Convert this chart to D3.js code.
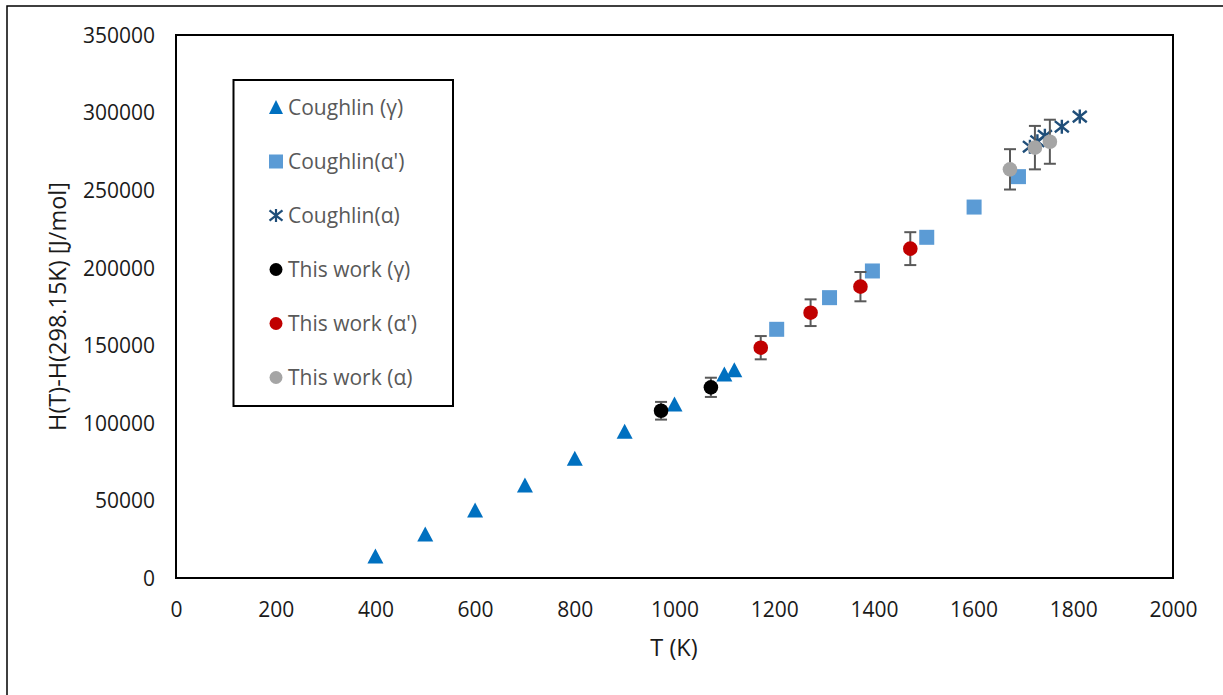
<!DOCTYPE html>
<html>
<head>
<meta charset="utf-8">
<script src="https://cdn.jsdelivr.net/npm/d3@7"></script>
<style>
  html, body { margin: 0; padding: 0; background: #fff; }
  svg { display: block; font-family: "Open Sans", "Noto Sans", sans-serif; }
</style>
</head>
<body>
<svg id="chart" width="1223" height="695"></svg>
<script>
// ---- data ----
const xTicks = [0, 200, 400, 600, 800, 1000, 1200, 1400, 1600, 1800, 2000];
const yTicks = [0, 50000, 100000, 150000, 200000, 250000, 300000, 350000];

const coughlinGammaT = [400, 500, 600, 700, 800, 900, 1000, 1100, 1120];
const coughlinGammaH = [13500, 27700, 43200, 59300, 76500, 93900, 111500, 130800, 133600];

const coughlinAlphaPrimeT = [1205, 1311, 1397, 1506, 1601, 1690];
const coughlinAlphaPrimeH = [160300, 180700, 197900, 219600, 239100, 258700];

const coughlinAlphaT = [1713, 1728, 1743, 1777, 1813];
const coughlinAlphaH = [278000, 281500, 285000, 290900, 297400];

const thisGammaT = [973, 1073];
const thisGammaH = [107800, 122900];
const thisGammaErr = [5700, 6200];

const thisAlphaPrimeT = [1173, 1273, 1373, 1473];
const thisAlphaPrimeH = [148450, 171000, 187800, 212300];
const thisAlphaPrimeErr = [7500, 8600, 9450, 10600];

const thisAlphaT = [1673, 1723, 1753];
const thisAlphaH = [263400, 277400, 281200];
const thisAlphaErr = [13000, 14000, 14200];

const seriesNames = ["Coughlin (γ)", "Coughlin(α')", "Coughlin(α)", "This work (γ)", "This work (α')", "This work (α)"];

// ---- layout ----
const svg = d3.select("#chart");
const plot = { left: 176, top: 35, right: 1173, bottom: 578 };

const x = d3.scaleLinear().domain([0, 2000]).range([plot.left, plot.right]);
const y = d3.scaleLinear().domain([0, 350000]).range([plot.bottom, plot.top]);

// outer frame (only left/top visible)
svg.append("rect").attr("x", 7).attr("y", 6).attr("width", 1240).attr("height", 720)
  .attr("fill", "none").attr("stroke", "#000").attr("stroke-width", 1.5);

// axes (labels only)
const xAxis = d3.axisBottom(x).tickValues(xTicks).tickSize(0).tickPadding(0).tickFormat(d3.format("d"));
const gx = svg.append("g").attr("transform", `translate(0,${plot.bottom})`).call(xAxis);
gx.select(".domain").remove();
gx.selectAll("text").attr("dy", null).attr("y", 39).attr("font-size", 21).attr("fill", "#1a1a1a")
  .attr("font-family", "'Open Sans', sans-serif");

const yAxis = d3.axisLeft(y).tickValues(yTicks).tickSize(0).tickPadding(0).tickFormat(d3.format("d"));
const gy = svg.append("g").attr("transform", `translate(${plot.left},0)`).call(yAxis);
gy.select(".domain").remove();
gy.selectAll("text").attr("x", -21).attr("dy", "0.35em").attr("font-size", 21).attr("fill", "#1a1a1a")
  .attr("font-family", "'Open Sans', sans-serif");

// plot frame
svg.append("rect").attr("x", plot.left).attr("y", plot.top)
  .attr("width", plot.right - plot.left).attr("height", plot.bottom - plot.top)
  .attr("fill", "none").attr("stroke", "#000").attr("stroke-width", 2);

// axis titles
svg.append("text").attr("x", 674).attr("y", 656).attr("text-anchor", "middle")
  .attr("font-size", 23.5).attr("fill", "#1a1a1a").text("T (K)");
svg.append("text").attr("transform", `translate(66,${(plot.top + plot.bottom) / 2}) rotate(-90)`)
  .attr("text-anchor", "middle").attr("font-size", 23.5).attr("fill", "#1a1a1a")
  .text("H(T)-H(298.15K) [J/mol]");

// ---- marker helpers ----
const colors = ["#0070C0", "#5B9BD5", "#1F4E79", "#000000", "#C00000", "#A5A5A5"];
function starPath(cx, cy, r) {
  const dx = r, dy = r * 0.8;
  return `M${cx},${cy - r}L${cx},${cy + r}M${cx - dx},${cy - dy}L${cx + dx},${cy + dy}M${cx - dx},${cy + dy}L${cx + dx},${cy - dy}`;
}
function drawMarker(g, type, cx, cy, color) {
  if (type === "tri") {
    g.append("path").attr("d", `M${cx},${cy - 8.5}L${cx + 8},${cy + 6.5}L${cx - 8},${cy + 6.5}Z`).attr("fill", color);
  } else if (type === "sq") {
    g.append("rect").attr("x", cx - 7.5).attr("y", cy - 7.5).attr("width", 15).attr("height", 15).attr("fill", color);
  } else if (type === "star") {
    g.append("path").attr("d", starPath(cx, cy, 7)).attr("stroke", color).attr("stroke-width", 2.4).attr("fill", "none");
  } else if (type === "circ") {
    g.append("circle").attr("cx", cx).attr("cy", cy).attr("r", 7.3).attr("fill", color);
  }
}

function drawSeries(Ts, Hs, errs, type, color) {
  const g = svg.append("g");
  if (errs) {
    Ts.forEach((t, i) => {
      const cx = x(t), y1 = y(Hs[i] - errs[i]), y2 = y(Hs[i] + errs[i]);
      g.append("line").attr("x1", cx).attr("x2", cx).attr("y1", y1).attr("y2", y2)
        .attr("stroke", "#595959").attr("stroke-width", 2);
      [y1, y2].forEach(yy => g.append("line").attr("x1", cx - 6).attr("x2", cx + 6)
        .attr("y1", yy).attr("y2", yy).attr("stroke", "#595959").attr("stroke-width", 2));
    });
  }
  Ts.forEach((t, i) => drawMarker(g, type, x(t), y(Hs[i]), color));
}

drawSeries(coughlinGammaT, coughlinGammaH, null, "tri", colors[0]);
drawSeries(coughlinAlphaPrimeT, coughlinAlphaPrimeH, null, "sq", colors[1]);
drawSeries(coughlinAlphaT, coughlinAlphaH, null, "star", colors[2]);
drawSeries(thisGammaT, thisGammaH, thisGammaErr, "circ", colors[3]);
drawSeries(thisAlphaPrimeT, thisAlphaPrimeH, thisAlphaPrimeErr, "circ", colors[4]);
drawSeries(thisAlphaT, thisAlphaH, thisAlphaErr, "circ", colors[5]);

// ---- legend ----
const lg = svg.append("g");
lg.append("rect").attr("x", 233.5).attr("y", 80).attr("width", 219.5).attr("height", 326)
  .attr("fill", "#fff").attr("stroke", "#000").attr("stroke-width", 2);
const types = ["tri", "sq", "star", "circ", "circ", "circ"];
seriesNames.forEach((name, i) => {
  const cy = 107.5 + i * 54;
  const mg = lg.append("g");
  if (types[i] === "tri") {
    mg.append("path").attr("d", `M276,${cy - 7.5}L283,${cy + 6.5}L269,${cy + 6.5}Z`).attr("fill", colors[i]);
  } else if (types[i] === "sq") {
    mg.append("rect").attr("x", 269).attr("y", cy - 7).attr("width", 14).attr("height", 14).attr("fill", colors[i]);
  } else if (types[i] === "star") {
    mg.append("path").attr("d", starPath(276, cy, 6.5)).attr("stroke", colors[i]).attr("stroke-width", 2.2).attr("fill", "none");
  } else {
    mg.append("circle").attr("cx", 276).attr("cy", cy).attr("r", 6.5).attr("fill", colors[i]);
  }
  lg.append("text").attr("x", 288).attr("y", cy).attr("dy", "0.35em")
    .attr("font-size", 21).attr("fill", "#595959").text(name);
});
</script>
</body>
</html>
